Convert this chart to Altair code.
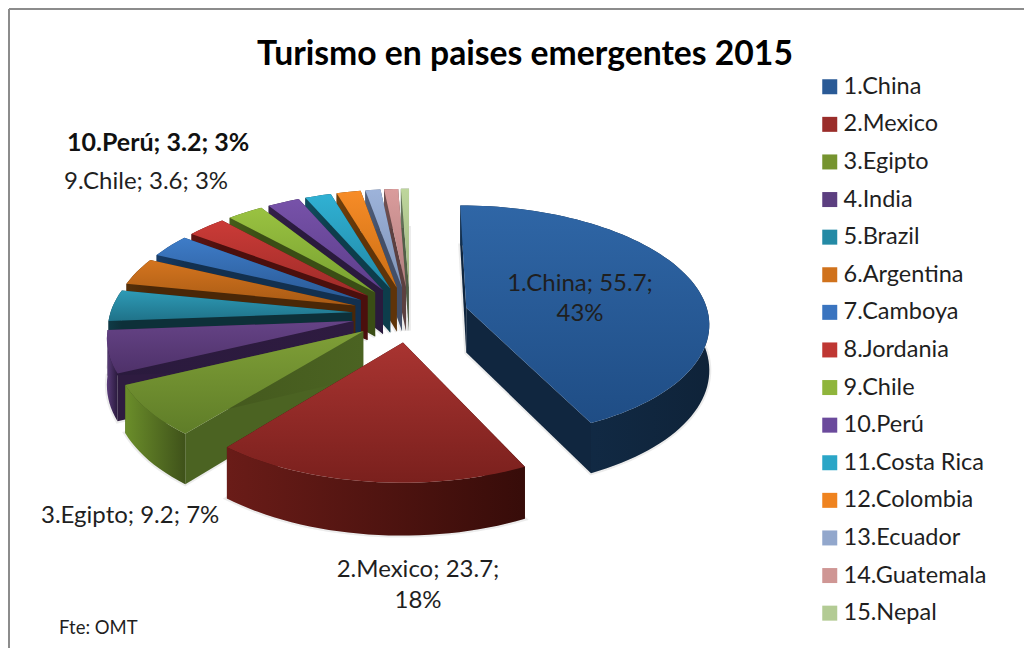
import math
import altair as alt

# ---------- data ----------
names = ["1.China", "2.Mexico", "3.Egipto", "4.India", "5.Brazil", "6.Argentina", "7.Camboya",
         "8.Jordania", "9.Chile", "10.Perú", "11.Costa Rica", "12.Colombia", "13.Ecuador",
         "14.Guatemala", "15.Nepal"]
values = [55.7, 23.7, 9.2, 7.5, 5.6, 4.9, 4.2, 3.9, 3.6, 3.2, 2.6, 2.4, 1.5, 1.4, 0.8]
legend_colors = ["#2a5a96", "#9a2d2a", "#76942f", "#5c3f80", "#248aa5", "#d0721c", "#3a74bf",
                 "#bf3733", "#8fb53b", "#6b4a9c", "#2ba6c7", "#ef831f", "#92a7cc", "#cf9694", "#b3cb94"]
top_light = ["#2f66a6", "#a93431", "#7f9f37", "#654386", "#2e9bb6", "#d4751f", "#3e7cc8",
             "#cb3b37", "#9ac241", "#7752a9", "#30b1d4", "#f78c27", "#9db3da", "#da9c9c", "#bed69c"]
top_dark = ["#1f4d85", "#7a201d", "#5f7d28", "#4e3169", "#1f7289", "#a85a14", "#2a5a96",
            "#9e2b28", "#77a030", "#5d3e8b", "#2188a5", "#cb6e14", "#7f94b8", "#b07e7e", "#9db27e"]
wall_left = ["#13304f", "#6a1c18", "#6b8e2a", "#5a3c7a", "#0f3a46", "#55300a", "#173c68",
             "#5e1513", "#465e1a", "#33204a", "#114e60", "#70400c", "#505f7c", "#705050", "#64755a"]
wall_right = ["#0f2339", "#370c09", "#3f521a", "#2a1a3d", "#0d3039", "#4a2707", "#12304f",
              "#4b0f0d", "#3a4d15", "#2a1a3d", "#0d3d4b", "#5f3409", "#434f68", "#5c4040", "#525f48"]
inner_wall = ["#10263f", "#3a0e0b", "#4b6322", "#2e1b40", "#0d3039", "#4a2707", "#12304f",
              "#4b0f0d", "#3a4d15", "#2a1a3d", "#0d3d4b", "#5f3409", "#434f68", "#5c4040", "#525f48"]

title_text = "Turismo en paises emergentes 2015"
source_text = "Fte: OMT"

# ---------- layout (page coordinates of the reference, minus the 8px margin) ----------
M = 8
CX, CY = 410, 314
R, RY = 242, 116
K, DROP, EXPLODE = 0.12, 45, 0.24
FONT = "Lato"
INK = "#1f1f1f"


def project(u, v, drop=0):
    s = 1 / (1 - K * v)
    return [CX - M + R * u * s, CY - M + (RY * v + drop) * s]


def feature(ring):
    ring = ring + [ring[0]]
    return {"type": "Feature", "properties": {}, "geometry": {"type": "Polygon", "coordinates": [ring]}}


def vgrad(a, b):
    return alt.Gradient(gradient="linear", x1=0, x2=0, y1=0, y2=1,
                        stops=[alt.GradientStop(color=a, offset=0), alt.GradientStop(color=b, offset=1)])


def hgrad(a, b):
    return alt.Gradient(gradient="linear", x1=0, x2=1, y1=0, y2=0,
                        stops=[alt.GradientStop(color=a, offset=0), alt.GradientStop(color=b, offset=1)])


def shape(ring, fill):
    return alt.Chart(alt.Data(values=[feature(ring)])).mark_geoshape(fill=fill)


def halo(ring):
    return alt.Chart(alt.Data(values=[feature(ring)])).mark_geoshape(
        fill="#9a9a9a", fillOpacity=0.2, stroke="#8a8a8a", strokeWidth=4, strokeOpacity=0.16)


total = sum(values)
slices = []
start = 0.0
for i, val in enumerate(values):
    a0 = start
    a1 = start + 360 * val / total
    start = a1
    mid = math.radians((a0 + a1) / 2)
    ou, ov = EXPLODE * math.sin(mid), -EXPLODE * math.cos(mid)
    slices.append((ov, i, a0, a1, ou))

shadows = []
layers = []
for ov, i, a0, a1, ou in sorted(slices):
    steps = max(3, int((a1 - a0) / 2))
    arc = [math.radians(a0 + (a1 - a0) * t / steps) for t in range(steps + 1)]
    rim = [(ou + math.sin(a), ov - math.cos(a)) for a in arc]
    apex_top = project(ou, ov)
    apex_bot = project(ou, ov, DROP)
    rim_top = [project(u, v) for u, v in rim]
    rim_bot = [project(u, v, DROP) for u, v in rim]
    shadows.append(halo([apex_bot] + rim_bot))
    # inner walls, outer wall, top face: painted back to front
    layers.append(shape([apex_top, rim_top[0], rim_bot[0], apex_bot], inner_wall[i]))
    layers.append(shape([apex_top, rim_top[-1], rim_bot[-1], apex_bot], hgrad(wall_right[i], inner_wall[i]) if rim_top[-1][0] < apex_top[0] else inner_wall[i]))
    layers.append(shape(rim_top + rim_bot[::-1], hgrad(wall_left[i], wall_right[i])))
    layers.append(shape([apex_top] + rim_top, vgrad(top_light[i], top_dark[i])))


def label(text, x, y, size=24, weight="normal", align="left", color=INK):
    return alt.Chart(alt.Data(values=[{"t": text}])).mark_text(
        font=FONT, fontSize=size, fontWeight=weight, align=align, baseline="middle", color=color
    ).encode(text="t:N", x=alt.value(x - M), y=alt.value(y - M))


texts = [
    label(title_text, 525, 55, size=33.7, weight="bold", align="center", color="#000000"),
    label("10.Perú; 3.2; 3%", 67, 143, size=25, weight="bold", color="#111111"),
    label("9.Chile; 3.6; 3%", 64, 182),
    label("1.China; 55.7;", 580, 284, align="center"),
    label("43%", 580, 314, align="center"),
    label("2.Mexico; 23.7;", 418, 570, align="center"),
    label("18%", 418, 601, align="center"),
    label("3.Egipto; 9.2; 7%", 41, 516),
    label(source_text, 59, 628, size=18.5),
]

frame = alt.Chart(alt.Data(values=[{"a": 1}]))
frame_top = frame.mark_rule(color="#8c8c8c", strokeWidth=2).encode(
    x=alt.value(1), x2=alt.value(1016), y=alt.value(1))
frame_left = frame.mark_rule(color="#8c8c8c", strokeWidth=2).encode(
    x=alt.value(1), y=alt.value(1), y2=alt.value(640))

legend_layer = alt.Chart(alt.Data(values=[{"n": n} for n in names])).mark_square(size=0).encode(
    x=alt.value(0), y=alt.value(0),
    color=alt.Color("n:N", sort=names, scale=alt.Scale(domain=names, range=legend_colors),
                    legend=alt.Legend(orient="none", legendX=810, legendY=67, title=None,
                                      symbolType="square", symbolSize=225, symbolStrokeWidth=0,
                                      symbolOpacity=1,
                                      labelFont=FONT, labelFontSize=23.5, labelColor=INK,
                                      labelLimit=200, rowPadding=12.6, labelOffset=2, values=names)),
)

chart = alt.layer(frame_top, frame_left, *shadows, *layers, *texts, legend_layer).project(
    type="identity", scale=1, translate=[0, 0]
).properties(
    width=1016, height=640, padding=0,
    autosize=alt.AutoSizeParams(type="none"), background="white",
).configure_view(stroke=None)

chart.save("out.html", embed_options={"renderer": "svg", "actions": False})
